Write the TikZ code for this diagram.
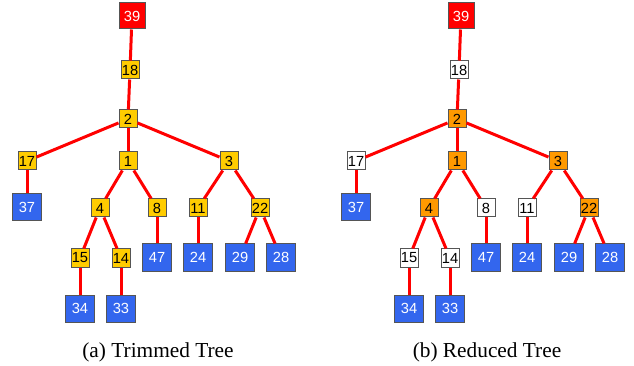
\documentclass[tikz,border=0pt]{standalone}
\usepackage{fontspec}
\setmainfont{Liberation Serif}
\newfontfamily\boxfont{Liberation Sans}
\definecolor{tyellow}{HTML}{FFCC00}
\definecolor{torange}{HTML}{FF9900}
\definecolor{tblue}{HTML}{3366EE}
\definecolor{tred}{HTML}{FF0000}
\definecolor{tedge}{HTML}{FF0000}
\definecolor{tborder}{HTML}{555555}
\tikzset{
  box/.style={draw=tborder, line width=0.75pt, inner sep=0pt, font=\boxfont\fontsize{11}{11}\selectfont},
  rootbox/.style={box, fill=tred, text=white, minimum width=19.5pt, minimum height=19.5pt},
  leafbox/.style={box, fill=tblue, text=white, minimum width=21.75pt, minimum height=20.25pt},
  midbox/.style={box, minimum width=13.5pt, minimum height=13.5pt},
  yel/.style={midbox, fill=tyellow},
  ora/.style={midbox, fill=torange},
  wht/.style={midbox, fill=white},
  link/.style={draw=tedge, line width=2.25pt},
  captext/.style={font=\fontsize{16}{16}\selectfont}
}
\newcommand\drawtree[1]{%
  \node[rootbox] (n39) at (132,16) {39};
  \node[\csname s18\endcsname] (n18) at (130,70) {18};
  \node[\csname s2\endcsname] (n2) at (128,119) {2};
  \node[\csname s17\endcsname] (n17) at (27,161) {17};
  \node[\csname s1\endcsname] (n1) at (128,161) {1};
  \node[\csname s3\endcsname] (n3) at (229,161) {3};
  \node[leafbox] (n37) at (27,207.5) {37};
  \node[\csname s4\endcsname] (n4) at (100,208) {4};
  \node[\csname s8\endcsname] (n8) at (157,208) {8};
  \node[\csname s11\endcsname] (n11) at (198,208) {11};
  \node[\csname s22\endcsname] (n22) at (260,208) {22};
  \node[\csname s15\endcsname] (n15) at (80,258) {15};
  \node[\csname s14\endcsname] (n14) at (121,258) {14};
  \node[leafbox] (n47) at (157,257.5) {47};
  \node[leafbox] (n24) at (198,257.5) {24};
  \node[leafbox] (n29) at (240,257.5) {29};
  \node[leafbox] (n28) at (281,257.5) {28};
  \node[leafbox] (n34) at (80,308.5) {34};
  \node[leafbox] (n33) at (121,308.5) {33};
  \path[link] (n39) -- (n18);
  \path[link] (n18) -- (n2);
  \path[link] (n2) -- (n17);
  \path[link] (n2) -- (n1);
  \path[link] (n2) -- (n3);
  \path[link] (n17) -- (n37);
  \path[link] (n1) -- (n4);
  \path[link] (n1) -- (n8);
  \path[link] (n3) -- (n11);
  \path[link] (n3) -- (n22);
  \path[link] (n4) -- (n15);
  \path[link] (n4) -- (n14);
  \path[link] (n8) -- (n47);
  \path[link] (n11) -- (n24);
  \path[link] (n22) -- (n29);
  \path[link] (n22) -- (n28);
  \path[link] (n15) -- (n34);
  \path[link] (n14) -- (n33);
  \node[captext] (caption) at (158,352) {#1};
}
\begin{document}
\begin{tikzpicture}[x=0.75pt,y=-0.75pt]
\useasboundingbox (0,0) rectangle (634,366);
\begin{scope}[name prefix=A-]
  \expandafter\def\csname s18\endcsname{yel}
  \expandafter\def\csname s2\endcsname{yel}
  \expandafter\def\csname s17\endcsname{yel}
  \expandafter\def\csname s1\endcsname{yel}
  \expandafter\def\csname s3\endcsname{yel}
  \expandafter\def\csname s4\endcsname{yel}
  \expandafter\def\csname s8\endcsname{yel}
  \expandafter\def\csname s11\endcsname{yel}
  \expandafter\def\csname s22\endcsname{yel}
  \expandafter\def\csname s15\endcsname{yel}
  \expandafter\def\csname s14\endcsname{yel}
  \drawtree{(a) Trimmed Tree}
\end{scope}
\begin{scope}[name prefix=B-, xshift=246.75pt]
  \expandafter\def\csname s18\endcsname{wht}
  \expandafter\def\csname s2\endcsname{ora}
  \expandafter\def\csname s17\endcsname{wht}
  \expandafter\def\csname s1\endcsname{ora}
  \expandafter\def\csname s3\endcsname{ora}
  \expandafter\def\csname s4\endcsname{ora}
  \expandafter\def\csname s8\endcsname{wht}
  \expandafter\def\csname s11\endcsname{wht}
  \expandafter\def\csname s22\endcsname{ora}
  \expandafter\def\csname s15\endcsname{wht}
  \expandafter\def\csname s14\endcsname{wht}
  \drawtree{(b) Reduced Tree}
\end{scope}
\end{tikzpicture}
\end{document}
